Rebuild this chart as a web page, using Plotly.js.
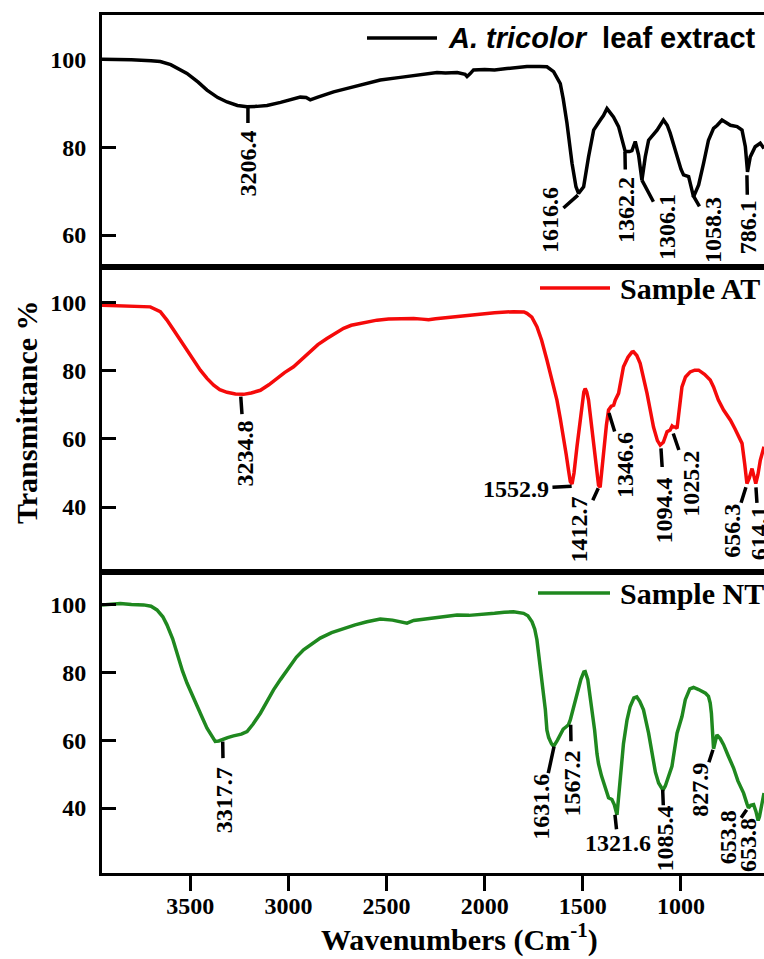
<!DOCTYPE html>
<html>
<head>
<meta charset="utf-8">
<script src="https://cdn.plot.ly/plotly-3.0.1.min.js"></script>
<style>
html, body { margin: 0; padding: 0; background: #ffffff; }
#chart { width: 764px; height: 959px; }
</style>
</head>
<body>
<div id="chart"></div>
<script>
// ---------------- DATA ----------------
const seriesNames = ['<i>A. tricolor</i>\u00a0 leaf extract', 'Sample AT', 'Sample NT'];

const wnExtract = [3950,3900,3800,3700,3653,3600,3517,3460,3415,3360,3313,3260,3211,3160,3109,3040,2974,2940,2910,2889,2850,2770,2700,2600,2532,2430,2360,2311,2243,2200,2140,2100,2090,2075,2057,2000,1950,1887,1830,1785,1720,1683,1649,1615,1600,1581,1555,1535,1522,1505,1496,1471,1445,1411,1395,1377,1360,1344,1318,1293,1284,1262,1250,1233,1216,1199,1182,1165,1140,1122,1089,1070,1055,1020,1000,987,961,936,910,885,860,834,815,791,770,748,714,689,672,661,647,622,596,577];
const tExtract  = [100.0,100.0,99.9,99.7,99.5,98.8,96.8,94.8,93.0,91.3,90.3,89.5,89.2,89.3,89.5,90.2,90.9,91.4,91.3,90.8,91.4,92.6,93.4,94.5,95.3,95.9,96.3,96.7,97.0,96.9,97.0,96.6,96.1,96.7,97.6,97.7,97.6,97.9,98.2,98.4,98.4,98.3,97.2,94.5,91.0,85.5,76.3,71.0,69.5,70.3,71.0,77.8,83.9,86.2,87.2,88.8,87.8,86.9,84.7,80.1,79.0,79.0,79.2,81.3,78.2,72.5,77.8,81.6,82.8,83.9,86.2,85.0,83.2,77.8,75.0,73.7,73.3,68.7,71.4,76.3,81.6,84.3,85.0,86.2,85.6,85.0,84.7,83.9,80.1,74.4,77.8,80.1,80.9,79.7];

const wnAT = [3950,3850,3750,3704,3653,3620,3585,3550,3517,3480,3449,3415,3381,3350,3313,3270,3229,3190,3143,3100,3058,3020,2974,2930,2889,2850,2804,2760,2719,2680,2634,2590,2549,2490,2430,2362,2320,2286,2250,2200,2167,2100,2023,1950,1853,1800,1785,1760,1734,1710,1683,1660,1632,1615,1598,1585,1573,1564,1555,1545,1530,1515,1505,1495,1488,1480,1471,1458,1445,1432,1420,1412,1403,1394,1380,1369,1355,1343,1335,1318,1305,1293,1270,1250,1242,1225,1208,1190,1173,1155,1140,1120,1106,1090,1071,1055,1045,1038,1029,1020,1008,995,977,953,930,910,880,851,834,810,783,748,725,706,689,675,664,652,638,628,619,608,596,577];
const tAT  = [99.3,99.2,99.0,98.8,97.4,95.0,92.0,89.0,86.1,83.0,80.2,77.8,75.8,74.5,73.7,73.2,73.1,73.5,74.3,75.9,77.8,79.5,81.2,83.5,85.6,87.7,89.5,91.2,92.5,93.4,94.0,94.5,94.9,95.2,95.4,95.4,95.2,95.0,95.3,95.6,95.9,96.4,96.9,97.1,97.4,97.3,96.9,95.8,93.0,89.0,83.2,77.5,71.4,66.0,60.6,55.5,50.8,47.5,46.8,50.0,57.7,65.5,70.4,73.8,74.8,73.8,71.4,64.5,57.7,51.5,46.4,45.8,51.0,57.7,64.0,68.5,69.6,69.9,71.4,73.4,77.5,81.2,84.0,85.5,85.6,84.5,82.2,78.0,73.4,68.0,63.5,59.5,58.2,59.0,62.1,62.6,63.8,63.5,63.5,63.1,70.0,75.3,78.2,79.7,80.2,80.2,79.0,77.3,75.3,71.5,68.5,65.5,63.0,60.6,58.7,52.5,46.9,48.5,51.3,49.0,46.9,49.5,53.7,57.7];

const wnNT = [3950,3900,3857,3800,3738,3700,3670,3640,3619,3590,3568,3540,3517,3490,3466,3440,3415,3390,3373,3355,3339,3310,3280,3240,3211,3180,3143,3110,3076,3040,3007,2960,2923,2880,2838,2780,2719,2660,2600,2532,2470,2430,2396,2362,2300,2240,2141,2080,2023,1950,1900,1853,1802,1780,1759,1745,1734,1717,1708,1691,1683,1674,1660,1649,1630,1615,1600,1585,1573,1564,1545,1530,1510,1495,1488,1475,1454,1440,1428,1420,1405,1385,1369,1352,1340,1326,1315,1305,1293,1275,1259,1240,1225,1210,1191,1165,1148,1130,1114,1100,1092,1080,1063,1046,1020,995,978,955,936,910,875,860,851,845,834,825,817,800,783,760,732,710,681,664,656,645,630,618,607,600,590,577];
const tNT  = [100.0,100.2,100.4,100.1,100.0,99.6,98.5,96.5,94.1,90.0,85.7,80.5,76.9,73.2,70.0,66.8,63.6,61.0,59.7,59.8,60.2,60.8,61.3,61.8,62.6,64.8,68.0,71.5,74.9,78.0,80.8,84.5,86.7,88.6,90.2,91.8,93.1,94.1,95.0,95.8,95.5,95.0,94.6,95.4,95.8,96.3,97.0,96.9,97.1,97.5,97.8,98.0,97.5,96.8,95.0,92.8,89.7,81.5,79.0,69.0,63.0,60.8,59.0,58.2,60.0,61.8,63.3,64.0,64.6,66.0,70.5,74.0,78.0,80.2,80.3,78.0,70.0,63.0,56.0,53.0,49.5,46.0,43.0,42.5,41.0,38.0,45.0,52.0,59.0,66.0,70.0,72.5,72.8,71.5,69.0,62.1,56.2,50.5,47.4,45.8,45.3,46.5,49.3,52.3,62.1,67.0,72.0,75.2,75.6,75.0,73.9,73.0,71.0,68.0,57.5,60.0,61.6,60.5,58.7,55.5,51.8,48.0,44.4,41.3,40.0,40.8,41.0,39.0,36.3,37.5,40.5,44.4];

const xTickVals = [3500, 3000, 2500, 2000, 1500, 1000, 500];
const yTickValsTop = [60, 80, 100];
const yTickValsLow = [40, 60, 80, 100];

// peak labels: text, wavenumber of pointer start, transmittance of pointer start
const peakTextExtract = ['3206.4','1616.6','1362.2','1306.1','1058.3','786.1'];
const peakWnExtract   = [3206.4, 1525, 1285.4, 1199, 939, 664];
const peakTExtract    = [88.9, 69.1, 78.9, 72.5, 69.1, 73.6];

const peakTextAT = ['3234.8','1552.9','1412.7','1346.6','1094.4','1025.2','656.3','614.1'];
const peakWnAT   = [3243, 1557, 1421.4, 1367, 1102, 1039.4, 669, 618];
const peakTAT    = [72.4, 46.1, 45.5, 67.6, 57.2, 61.6, 45.8, 45.8];

const peakTextNT = ['3317.7','1631.6','1567.2','1321.6','1085.4','827.9','653.8','653.8'];
const peakWnNT   = [3335, 1647, 1562, 1336.4, 1093.3, 837, 665.4, 608];
const peakTNT    = [59.6, 58.1, 64.6, 38.0, 45.4, 57.2, 39.5, 35.7];

// ---------------- STYLE / LAYOUT ----------------
const colors = ['#000000', '#f50a0a', '#1f881f'];
const serif = 'Liberation Serif';

// label placement (pixel offsets of label centre from pointer start, angle, gap)
const placeExtract = [[0,55.5,-90,7],[-28,25,-90,0],[1,58,-90,7],[25,47,-90,0],[20,35,-90,0],[1,52,-90,5]];
const placeAT = [[4,57,-90,6],[-55.7,3,0,3],[-19,41,-90,0],[16,52,-90,0],[4,62,-90,10],[17,50,-90,0],[-13.5,43,-90,0],[3,46,-90,3]];
const placeNT = [[1,59,-90,9],[-13,60,-90,0],[1,59,-90,9],[3,28,0,0],[2,49,-90,0],[-13,40,-90,0],[-19,28,-90,0],[-10.5,22,-90,0]];

function peakAnnotations(texts, xs, ys, place, s) {
  return texts.map((t, i) => ({
    text: t, x: xs[i], y: ys[i], xref: 'x' + s, yref: 'y' + s,
    showarrow: true, arrowhead: 0, arrowwidth: 3.5, arrowcolor: '#000',
    ax: place[i][0], ay: place[i][1], textangle: place[i][2],
    standoff: 0, startstandoff: place[i][3], borderpad: 0,
    font: { family: serif, size: 24, color: '#000', weight: 'bold' }
  }));
}

const traces = [
  { x: wnExtract, y: tExtract, xaxis: 'x', yaxis: 'y', name: 'A. tricolor leaf extract' },
  { x: wnAT, y: tAT, xaxis: 'x2', yaxis: 'y2', name: seriesNames[1] },
  { x: wnNT, y: tNT, xaxis: 'x3', yaxis: 'y3', name: seriesNames[2] }
].map((t, i) => Object.assign(t, {
  type: 'scatter', mode: 'lines', showlegend: false,
  line: { color: colors[i], width: 3.5 }
}));

const plotL = 102, plotR = 764, plotT = 15, plotB = 873;
const W = plotR - plotL, H = plotB - plotT;
const px = v => (v - plotL) / W;
const py = v => (plotB - v) / H;

const tickFont = { family: serif, size: 24, color: '#000', weight: 'bold' };
const xBase = {
  range: [3950, 577], showgrid: false, zeroline: false, showline: true,
  linewidth: 3, linecolor: '#000', mirror: true, ticks: '', showticklabels: false
};
const yBase = {
  showgrid: false, zeroline: false, showline: true, linewidth: 3, linecolor: '#000',
  ticks: 'inside', ticklen: 14, tickwidth: 3, tickcolor: '#000', tickfont: tickFont,
  ticklabelstandoff: 8
};

// legends drawn as line + text
const legendLines = [
  { x0: 367, x1: 437, y: 38 },
  { x0: 540, x1: 610, y: 288 },
  { x0: 538, x1: 610, y: 593 }
];
const legendText = [
  { x: 446, y: 38, font: { family: 'Liberation Sans', size: 29, color: '#000', weight: 'bold' } },
  { x: 618, y: 288, font: { family: serif, size: 30, color: '#000', weight: 'bold' } },
  { x: 618, y: 593, font: { family: serif, size: 30, color: '#000', weight: 'bold' } }
];

const shapes = legendLines.map((l, i) => ({
  type: 'line', xref: 'paper', yref: 'paper',
  x0: px(l.x0), x1: px(l.x1), y0: py(l.y), y1: py(l.y),
  line: { color: colors[i], width: 3.5 }
}));

const annotations = []
  .concat(peakAnnotations(peakTextExtract, peakWnExtract, peakTExtract, placeExtract, ''))
  .concat(peakAnnotations(peakTextAT, peakWnAT, peakTAT, placeAT, '2'))
  .concat(peakAnnotations(peakTextNT, peakWnNT, peakTNT, placeNT, '3'))
  .concat(legendText.map((l, i) => ({
    text: seriesNames[i], xref: 'paper', yref: 'paper', x: px(l.x), y: py(l.y),
    xanchor: 'left', yanchor: 'middle', showarrow: false, font: l.font
  })))
  .concat([
    { text: 'Transmittance %', xref: 'paper', yref: 'paper', x: px(26), y: py(412),
      textangle: -90, showarrow: false, xanchor: 'center', yanchor: 'middle',
      font: { family: serif, size: 30, color: '#000', weight: 'bold' } },
    { text: 'Wavenumbers (Cm<sup>-1</sup>)', xref: 'paper', yref: 'paper', x: px(459), y: py(938),
      showarrow: false, xanchor: 'center', yanchor: 'middle',
      font: { family: serif, size: 30, color: '#000', weight: 'bold' } }
  ]);

const layout = {
  width: 764, height: 959,
  margin: { l: plotL, r: 764 - plotR, t: plotT, b: 959 - plotB, pad: 0 },
  paper_bgcolor: '#ffffff', plot_bgcolor: '#ffffff',
  showlegend: false,
  xaxis: Object.assign({}, xBase, { anchor: 'y' }),
  xaxis2: Object.assign({}, xBase, { anchor: 'y2' }),
  xaxis3: Object.assign({}, xBase, {
    anchor: 'y3', ticks: 'outside', ticklen: 15, tickwidth: 3, tickcolor: '#000',
    showticklabels: true, tickvals: xTickVals, tickfont: tickFont, ticklabelstandoff: -6
  }),
  yaxis: Object.assign({}, yBase, { domain: [py(266.7), 1], range: [52.8, 110.1], tickvals: yTickValsTop, anchor: 'x' }),
  yaxis2: Object.assign({}, yBase, { domain: [py(571.7), py(266.7)], range: [21, 110.6], tickvals: yTickValsLow, anchor: 'x2' }),
  yaxis3: Object.assign({}, yBase, { domain: [0, py(571.7)], range: [20.8, 109.8], tickvals: yTickValsLow, anchor: 'x3' }),
  shapes: shapes,
  annotations: annotations
};

Plotly.newPlot('chart', traces, layout, { staticPlot: true, displayModeBar: false });
</script>
</body>
</html>
